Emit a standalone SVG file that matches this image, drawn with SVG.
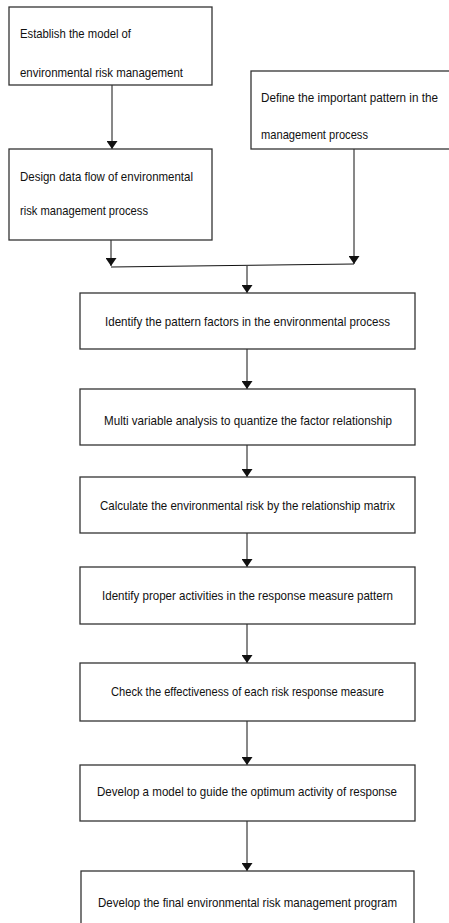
<svg xmlns="http://www.w3.org/2000/svg" width="449" height="923" viewBox="0 0 449 923">
<defs>
<style>
.box{fill:#fff;stroke:#333;stroke-width:1.3}
.t{font-family:"Liberation Sans",Arial,sans-serif;font-size:13px;fill:#111}
.s{font-size:12px}
.c{text-anchor:middle}
.ln{fill:none;stroke:#111;stroke-width:1}
</style>
<marker id="ah" viewBox="0 0 8 11" refX="8" refY="5.5" markerWidth="8" markerHeight="11" markerUnits="userSpaceOnUse" orient="auto">
<path d="M0,0 L8,5.5 L0,11 Z" fill="#111"/>
</marker>
</defs>
<rect width="449" height="923" fill="#fff"/>
<g id="connectors">
<line class="ln" x1="112" y1="85" x2="112" y2="149" marker-end="url(#ah)"/>
<line class="ln" x1="111" y1="240" x2="111" y2="266" marker-end="url(#ah)"/>
<line class="ln" x1="354" y1="149" x2="354" y2="264" marker-end="url(#ah)"/>
<line class="ln" x1="111" y1="267" x2="354" y2="264"/>
<line class="ln" x1="247" y1="266" x2="247" y2="293" marker-end="url(#ah)"/>
<line class="ln" x1="247" y1="349" x2="247" y2="389" marker-end="url(#ah)"/>
<line class="ln" x1="247" y1="445" x2="247" y2="477" marker-end="url(#ah)"/>
<line class="ln" x1="247" y1="533" x2="247" y2="567" marker-end="url(#ah)"/>
<line class="ln" x1="247" y1="624" x2="247" y2="663" marker-end="url(#ah)"/>
<line class="ln" x1="247" y1="721" x2="247" y2="765" marker-end="url(#ah)"/>
<line class="ln" x1="247" y1="821" x2="247" y2="871" marker-end="url(#ah)"/>
</g>
<g id="n1">
<rect class="box" x="9" y="7" width="203" height="78"/>
<text class="t" x="20" y="38" textLength="111" lengthAdjust="spacingAndGlyphs">Establish the model of</text>
<text class="t" x="20" y="77" textLength="163" lengthAdjust="spacingAndGlyphs">environmental risk management</text>
</g>
<g id="n2">
<rect class="box" x="9" y="149" width="203" height="91"/>
<text class="t" x="20" y="181" textLength="173" lengthAdjust="spacingAndGlyphs">Design data flow of environmental</text>
<text class="t" x="20" y="215" textLength="128" lengthAdjust="spacingAndGlyphs">risk management process</text>
</g>
<g id="n3">
<rect class="box" x="251" y="71" width="210" height="78"/>
<text class="t s" x="261" y="102" textLength="177" lengthAdjust="spacingAndGlyphs">Define the important pattern in the</text>
<text class="t" x="261" y="139" textLength="107" lengthAdjust="spacingAndGlyphs">management process</text>
</g>
<g id="n4">
<rect class="box" x="80" y="293" width="335" height="56"/>
<text class="t c" x="247.5" y="326" textLength="285" lengthAdjust="spacingAndGlyphs">Identify the pattern factors in the environmental process</text>
</g>
<g id="n5">
<rect class="box" x="80" y="389" width="335" height="56"/>
<text class="t c" x="248" y="425" textLength="288" lengthAdjust="spacingAndGlyphs">Multi variable analysis to quantize the factor relationship</text>
</g>
<g id="n6">
<rect class="box" x="80" y="477" width="335" height="56"/>
<text class="t c" x="247.5" y="510" textLength="295" lengthAdjust="spacingAndGlyphs">Calculate the environmental risk by the relationship matrix</text>
</g>
<g id="n7">
<rect class="box" x="80" y="567" width="335" height="57"/>
<text class="t c" x="247.5" y="600" textLength="291" lengthAdjust="spacingAndGlyphs">Identify proper activities in the response measure pattern</text>
</g>
<g id="n8">
<rect class="box" x="80" y="663" width="335" height="58"/>
<text class="t c" x="247.5" y="696" textLength="273" lengthAdjust="spacingAndGlyphs">Check the effectiveness of each risk response measure</text>
</g>
<g id="n9">
<rect class="box" x="80" y="765" width="335" height="56"/>
<text class="t c" x="247" y="796" textLength="300" lengthAdjust="spacingAndGlyphs">Develop a model to guide the optimum activity of response</text>
</g>
<g id="n10">
<rect class="box" x="81" y="871" width="333" height="60"/>
<text class="t c" x="247.5" y="907" textLength="299" lengthAdjust="spacingAndGlyphs">Develop the final environmental risk management program</text>
</g>
</svg>
